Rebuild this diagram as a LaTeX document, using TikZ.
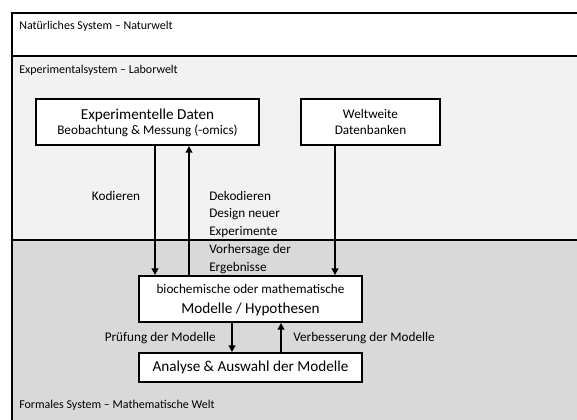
\documentclass[tikz,border=0pt]{standalone}
\usepackage{fontspec}
\setmainfont{Carlito}
\usetikzlibrary{arrows.meta}
\definecolor{labgray}{HTML}{F2F2F2}
\definecolor{formgray}{HTML}{D9D9D9}
\begin{document}
\begin{tikzpicture}[x=0.75pt,y=-0.75pt,
  region/.style={draw=black, line width=1.1pt},
  box/.style={draw=black, line width=1.4pt, fill=white, inner sep=0pt, align=center},
  flow/.style={-{Triangle[length=5pt,width=5pt]}, line width=1.4pt},
  big/.style={font=\fontsize{11.4}{13}\selectfont},
  mid/.style={font=\fontsize{9.9}{12}\selectfont},
  lbl/.style={font=\fontsize{9.9}{12}\selectfont, inner sep=0pt},
  corner/.style={font=\fontsize{9}{11}\selectfont, inner sep=0pt, anchor=west}]
\useasboundingbox (0,0) rectangle (577,419);
\clip (0,0) rectangle (577,419);
\fill[white] (0,0) rectangle (577,419);
% regions
\draw[region, fill=white] (12,13) rectangle (610,56);
\draw[region, fill=labgray] (12,56) rectangle (610,240);
\draw[region, fill=formgray] (12,240) rectangle (610,440);
\node[corner] (nat) at (19,26) {Natürliches System – Naturwelt};
\node[corner] (lab) at (19,70) {Experimentalsystem – Laborwelt};
\node[corner] (form) at (19,405) {Formales System – Mathematische Welt};
% boxes
\node[box, minimum width=167.25pt, minimum height=34.5pt] (daten) at (147.5,122) {};
\node[big, inner sep=0pt] (datenA) at (147.5,115) {Experimentelle Daten};
\node[mid, inner sep=0pt] (datenB) at (147.5,131) {Beobachtung \& Messung (-omics)};
\node[box, minimum width=104.25pt, minimum height=34.5pt] (bank) at (370.5,122) {};
\node[mid, inner sep=0pt] (bankA) at (370.5,114) {Weltweite};
\node[mid, inner sep=0pt] (bankB) at (370.5,130) {Datenbanken};
\node[box, minimum width=167.25pt, minimum height=34.5pt] (bio) at (250.5,299) {};
\node[mid, inner sep=0pt] (bioA) at (250.5,289) {biochemische oder mathematische};
\node[big, inner sep=0pt] (bioB) at (250.5,309) {Modelle / Hypothesen};
\node[box, big, minimum width=167.25pt, minimum height=21.75pt] (ana) at (250.5,367.5) {Analyse \& Auswahl der Modelle};
% arrow positions
\coordinate (xk) at (155,0);
\coordinate (xd) at (189,0);
\coordinate (xb) at (335,0);
\coordinate (xp) at (232,0);
\coordinate (xv) at (281,0);
\draw[flow] (daten.south -| xk) -- (bio.north -| xk);
\draw[flow] (bio.north -| xd) -- (daten.south -| xd);
\draw[flow] (bank.south -| xb) -- (bio.north -| xb);
\draw[flow] (bio.south -| xp) -- (ana.north -| xp);
\draw[flow] (ana.north -| xv) -- (bio.south -| xv);
% labels
\node[lbl] (kod) at (116,196) {Kodieren};
\node[lbl, anchor=west] (dek1) at (209,196) {Dekodieren};
\node[lbl, anchor=west] (dek2) at (209,214) {Design neuer};
\node[lbl, anchor=west] (dek3) at (209,232) {Experimente};
\node[lbl, anchor=west] (dek4) at (209,250) {Vorhersage der};
\node[lbl, anchor=west] (dek5) at (209,268) {Ergebnisse};
\node[lbl, anchor=east] (pruef) at (216,338) {Prüfung der Modelle};
\node[lbl, anchor=west] (verb) at (293,338) {Verbesserung der Modelle};
\end{tikzpicture}
\end{document}
